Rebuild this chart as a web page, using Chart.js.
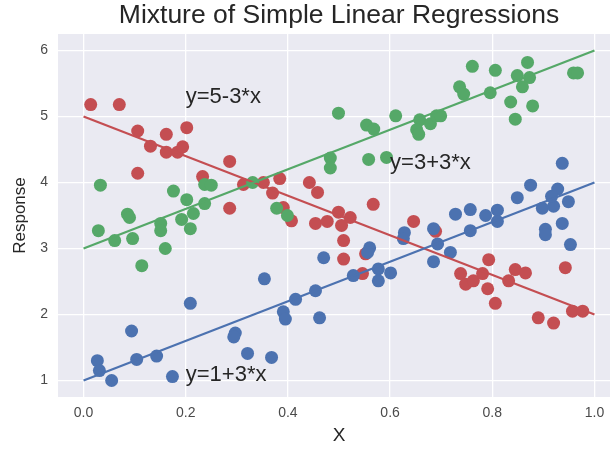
<!DOCTYPE html>
<html>
<head>
<meta charset="utf-8">
<script src="https://cdn.jsdelivr.net/npm/chart.js@4"></script>
<style>
  html, body { margin: 0; padding: 0; overflow: hidden; background: #fff; }
  #wrap { width: 630px; height: 450px; }
</style>
</head>
<body>
<div id="wrap"><canvas id="chart" width="630" height="450"></canvas></div>
<script>
// axis ticks
const xTicks = [0, 0.2, 0.4, 0.6, 0.8, 1.0];
const yTicks = [1, 2, 3, 4, 5, 6];

// group 1: y = 1 + 3x (blue)
const blueX = [0.027, 0.031, 0.055, 0.094, 0.104, 0.143, 0.174, 0.209, 0.297, 0.294,
  0.321, 0.368, 0.354, 0.391, 0.395, 0.415, 0.454, 0.462, 0.470, 0.528,
  0.560, 0.556, 0.577, 0.577, 0.601, 0.628, 0.626, 0.685, 0.693, 0.685,
  0.718, 0.728, 0.757, 0.757, 0.787, 0.810, 0.810, 0.849, 0.875, 0.898,
  0.920, 0.904, 0.904, 0.937, 0.953, 0.928, 0.916, 0.949, 0.937];
const blueY = [1.30, 1.15, 1.00, 1.75, 1.32, 1.37, 1.06, 2.17, 1.72, 1.66,
  1.41, 1.35, 2.54, 2.04, 1.93, 2.23, 2.36, 1.95, 2.86, 2.59,
  3.01, 2.94, 2.69, 2.51, 2.63, 3.24, 3.15, 3.30, 3.07, 2.80,
  2.94, 3.52, 3.59, 3.27, 3.50, 3.58, 3.41, 3.77, 3.96, 3.61,
  3.64, 3.29, 3.21, 3.38, 3.06, 3.90, 3.79, 3.71, 4.29];

// group 2: y = 3 + 3x (green)
const greenX = [0.033, 0.029, 0.061, 0.086, 0.090, 0.096, 0.114, 0.151, 0.151, 0.160,
  0.176, 0.192, 0.202, 0.209, 0.215, 0.237, 0.250, 0.237, 0.378, 0.399,
  0.331, 0.483, 0.483, 0.499, 0.554, 0.568, 0.558, 0.593, 0.611, 0.658,
  0.652, 0.656, 0.679, 0.691, 0.699, 0.736, 0.744, 0.761, 0.806, 0.796,
  0.849, 0.869, 0.873, 0.859, 0.836, 0.879, 0.845, 0.959, 0.967];
const greenY = [3.96, 3.27, 3.12, 3.52, 3.47, 3.15, 2.74, 3.38, 3.27, 3.00,
  3.87, 3.44, 3.74, 3.30, 3.53, 3.97, 3.96, 3.68, 3.61, 3.50,
  4.00, 4.37, 4.22, 5.05, 4.87, 4.81, 4.35, 4.38, 5.01, 4.95,
  4.80, 4.73, 4.89, 5.01, 5.01, 5.45, 5.34, 5.76, 5.70, 5.36,
  5.62, 5.82, 5.59, 5.45, 5.22, 5.16, 4.96, 5.66, 5.66];

// group 3: y = 5 - 3x (red)
const redX = [0.014, 0.070, 0.106, 0.131, 0.162, 0.202, 0.162, 0.184, 0.194, 0.106,
  0.286, 0.233, 0.286, 0.313, 0.352, 0.384, 0.370, 0.442, 0.458, 0.391,
  0.567, 0.499, 0.522, 0.407, 0.454, 0.477, 0.505, 0.509, 0.509, 0.552,
  0.546, 0.646, 0.689, 0.793, 0.738, 0.748, 0.763, 0.781, 0.791, 0.806,
  0.832, 0.845, 0.865, 0.943, 0.890, 0.920, 0.957, 0.977];
const redY = [5.18, 5.18, 4.78, 4.55, 4.73, 4.83, 4.46, 4.46, 4.54, 4.14,
  4.32, 4.09, 3.61, 3.97, 4.00, 4.06, 3.84, 4.00, 3.85, 3.62,
  3.67, 3.55, 3.47, 3.42, 3.38, 3.41, 3.35, 3.12, 2.84, 2.92,
  2.62, 3.41, 3.26, 2.83, 2.62, 2.46, 2.51, 2.62, 2.39, 2.17,
  2.51, 2.68, 2.63, 2.71, 1.95, 1.87, 2.05, 2.05];

// regression lines over x = 0..1
const lineX = [0, 1];
const blueLine = [1, 4];
const greenLine = [3, 6];
const redLine = [5, 2];

// text labels on the plot
const annoText = ['y=5-3*x', 'y=3+3*x', 'y=1+3*x'];
const annoX = [0.2, 0.6, 0.2];
const annoY = [5.2, 4.2, 1.0];

const BLUE = '#4C72B0';
const GREEN = '#55A868';
const RED = '#C44E52';
const FONT = '"Liberation Sans", Arial, sans-serif';

const toPts = (xs, ys) => xs.map((x, i) => ({ x: x, y: ys[i] }));

const bgPlugin = {
    id: 'bg',
    beforeDraw(chart) {
        const { ctx, chartArea: a } = chart;
        ctx.save();
        ctx.fillStyle = '#EAEAF2';
        ctx.fillRect(a.left, a.top, a.right - a.left, a.bottom - a.top);
        ctx.restore();
    }
};

const textPlugin = {
    id: 'texts',
    afterDatasetsDraw(chart) {
        const { ctx, chartArea: a, scales } = chart;
        ctx.save();
        ctx.fillStyle = '#262626';
        ctx.textAlign = 'left';
        ctx.textBaseline = 'alphabetic';
        ctx.font = '22px ' + FONT;
        annoText.forEach((t, i) => {
            ctx.fillText(t, scales.x.getPixelForValue(annoX[i]), scales.y.getPixelForValue(annoY[i]));
        });
        // title, centred over the plot area
        ctx.textAlign = 'center';
        ctx.textBaseline = 'middle';
        ctx.font = '26.5px ' + FONT;
        ctx.fillText('Mixture of Simple Linear Regressions', (a.left + a.right) / 2, 16);
        ctx.restore();
    }
};

const ctx = document.getElementById('chart').getContext('2d');
new Chart(ctx, {
    type: 'scatter',
    data: {
        datasets: [
            { data: toPts(blueX, blueY), backgroundColor: BLUE, pointRadius: 6.5, pointBorderWidth: 0, order: 3 },
            { data: toPts(greenX, greenY), backgroundColor: GREEN, pointRadius: 6.5, pointBorderWidth: 0, order: 3 },
            { data: toPts(redX, redY), backgroundColor: RED, pointRadius: 6.5, pointBorderWidth: 0, order: 3 },
            { type: 'line', data: toPts(lineX, blueLine), borderColor: BLUE, borderWidth: 2.2, pointRadius: 0, fill: false, order: 1 },
            { type: 'line', data: toPts(lineX, greenLine), borderColor: GREEN, borderWidth: 2.2, pointRadius: 0, fill: false, order: 1 },
            { type: 'line', data: toPts(lineX, redLine), borderColor: RED, borderWidth: 2.2, pointRadius: 0, fill: false, order: 1 }
        ]
    },
    options: {
        responsive: false,
        animation: false,
        layout: { padding: { top: 34, right: 10, left: 6, bottom: 0 } },
        plugins: {
            legend: { display: false },
            tooltip: { enabled: false }
        },
        scales: {
            x: {
                type: 'linear',
                min: -0.05,
                max: 1.05,
                afterBuildTicks: (s) => { s.ticks = xTicks.map(v => ({ value: v })); },
                afterFit: (s) => { s.height = 53; },
                border: { display: false },
                grid: { color: '#ffffff', lineWidth: 1.3, drawTicks: false },
                ticks: {
                    color: '#4a4a4a',
                    padding: 8,
                    font: { family: FONT, size: 14 },
                    callback: (v) => Number(v).toFixed(1)
                },
                title: {
                    display: true,
                    text: 'X',
                    color: '#262626',
                    font: { family: FONT, size: 19 },
                    padding: { top: 0, bottom: 3 }
                }
            },
            y: {
                min: 0.75,
                max: 6.25,
                afterBuildTicks: (s) => { s.ticks = yTicks.map(v => ({ value: v })); },
                afterFit: (s) => { s.width = 52; },
                border: { display: false },
                grid: { color: '#ffffff', lineWidth: 1.3, drawTicks: false },
                ticks: {
                    color: '#4a4a4a',
                    padding: 10,
                    font: { family: FONT, size: 14 },
                    callback: (v) => String(v)
                },
                title: {
                    display: true,
                    text: 'Response',
                    color: '#262626',
                    font: { family: FONT, size: 17 },
                    padding: { top: 4, bottom: 0 }
                }
            }
        }
    },
    plugins: [bgPlugin, textPlugin]
});
</script>
</body>
</html>
